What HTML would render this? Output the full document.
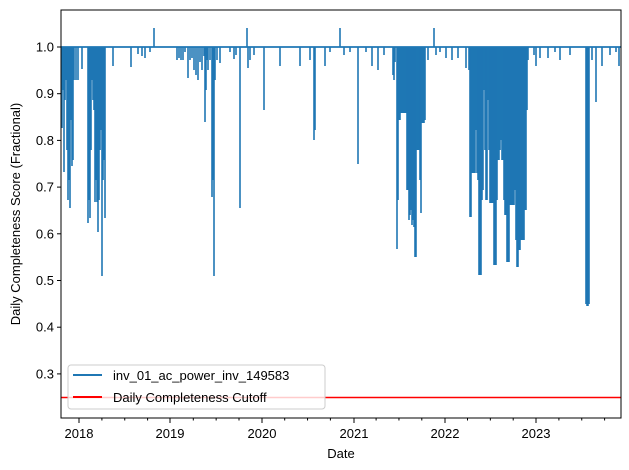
<!DOCTYPE html>
<html><head><meta charset="utf-8"><style>
body{margin:0;background:#fff;}
svg{display:block;font-family:"Liberation Sans","DejaVu Sans",sans-serif;}
</style></head><body>
<svg id="s" width="629" height="470" viewBox="0 0 629 470" xmlns="http://www.w3.org/2000/svg">
<rect width="629" height="470" fill="#fff"/>
<g id="data" stroke="#1f77b4" stroke-width="1.6" fill="none"></g>
<line x1="61" y1="47" x2="621" y2="47" stroke="#1f77b4" stroke-width="1.8"/>
<line x1="61" y1="397.5" x2="621" y2="397.5" stroke="#ff0000" stroke-width="1.6"/>
<rect x="61" y="10" width="560" height="408" fill="none" stroke="#000" stroke-width="1"/>
<g id="ax" stroke="#000" stroke-width="1"></g>
<g font-size="13" fill="#000" text-anchor="end" id="ylab"></g>
<g font-size="13" fill="#000" text-anchor="middle">
<text x="79" y="438">2018</text><text x="170" y="438">2019</text><text x="262" y="438">2020</text>
<text x="354" y="438">2021</text><text x="445" y="438">2022</text><text x="536" y="438">2023</text>
<text x="341" y="458">Date</text>
</g>
<text transform="translate(20,214) rotate(-90)" font-size="13" text-anchor="middle">Daily Completeness Score (Fractional)</text>
<rect x="68" y="365" width="257" height="44" rx="3" fill="#fff" fill-opacity="0.8" stroke="#ccc"/>
<line x1="73" y1="375" x2="102" y2="375" stroke="#1f77b4" stroke-width="2"/>
<line x1="73" y1="397" x2="102" y2="397" stroke="#ff0000" stroke-width="2"/>
<text x="113" y="380" font-size="13">inv_01_ac_power_inv_149583</text>
<text x="113" y="402" font-size="13">Daily Completeness Cutoff</text>
</svg>
<script>
var NS="http://www.w3.org/2000/svg";
function L(g,x1,y1,x2,y2,w,c){var l=document.createElementNS(NS,"line");l.setAttribute("x1",x1);l.setAttribute("y1",y1);l.setAttribute("x2",x2);l.setAttribute("y2",y2);if(w)l.setAttribute("stroke-width",w);if(c)l.setAttribute("stroke",c);g.appendChild(l);}
var d=document.getElementById("data");
var sp=[[62,128],[63,90],[64,172],[65,100],[66,80],[67,150],[68,200],[69,180],[70,208],[71,120],[72,166],[73,160],[74,80],[76,80],[78,80],[82,69],[88,223],[89,200],[90,218],[91,150],[92,80],[93,100],[94,110],[95,202],[96,180],[97,202],[98,232],[99,200],[100,150],[101,130],[102,276],[103,180],[104,160],[105,218],[113,66],[131,67],[138,54],[142,56],[145,58],[150,52],[154,28],[177,60],[179,58],[181,60],[183,60],[185,52],[188,78],[190,60],[192,58],[194,70],[196,75],[198,80],[200,62],[202,70],[204,56],[205,122],[206,90],[207,60],[208,70],[210,60],[212,197],[213,180],[214,276],[215,80],[217,60],[220,63],[230,52],[234,59],[236,55],[240,208],[247,28],[248,68],[250,60],[254,55],[264,110],[280,66],[300,66],[310,60],[314,140],[315,130],[325,66],[330,52],[340,28],[344,55],[350,52],[358,164],[366,52],[372,66],[378,70],[384,55],[393,75],[394,80],[395,62],[397,249],[398,200],[399,120],[400,120],[401,113],[402,113],[403,113],[404,113],[405,113],[406,113],[407,190],[408,190],[409,220],[410,215],[411,210],[412,225],[413,220],[414,227],[415,257],[416,257],[417,150],[418,150],[419,150],[420,180],[421,213],[422,123],[423,123],[424,123],[425,120],[428,60],[434,28],[436,55],[440,52],[446,58],[452,60],[458,58],[466,68],[469,70],[470,217],[471,217],[472,173],[473,173],[474,173],[475,173],[476,130],[477,173],[478,180],[479,275],[480,275],[481,275],[482,200],[483,190],[484,90],[485,150],[486,200],[487,200],[488,100],[489,150],[490,203],[491,203],[492,203],[493,203],[494,265],[495,265],[496,265],[497,200],[498,160],[499,160],[500,150],[501,140],[502,160],[503,160],[504,200],[505,215],[506,215],[507,262],[508,262],[509,262],[510,205],[511,205],[512,205],[513,205],[514,205],[515,190],[516,240],[517,267],[518,267],[519,250],[520,250],[521,240],[522,240],[523,240],[524,240],[525,210],[526,210],[527,110],[528,60],[534,55],[536,66],[540,58],[548,58],[555,52],[560,60],[570,55],[586,304],[587,306],[588,306],[589,304],[592,60],[596,102],[602,66],[610,55],[616,52],[619,66]];
sp.forEach(function(p){L(d,p[0],47,p[0],p[1]);});
// up spikes line at 28 handled above
var a=document.getElementById("ax"),yl=document.getElementById("ylab");
for(var i=3;i<=10;i++){var y=47+(10-i)*46.7;L(a,57,y,61,y);var t=document.createElementNS(NS,"text");t.setAttribute("x",54);t.setAttribute("y",y+4.5);t.textContent=(i/10).toFixed(1);yl.appendChild(t);}
var yrs=[79,170,262,354,445,536];
yrs.forEach(function(x){L(a,x,418,x,423);});
for(var x=79-22.8;x<621;x+=22.85){var maj=yrs.some(function(v){return Math.abs(v-x)<3});if(!maj&&x>61)L(a,x,418,x,420.5);}
</script>
</body></html>
